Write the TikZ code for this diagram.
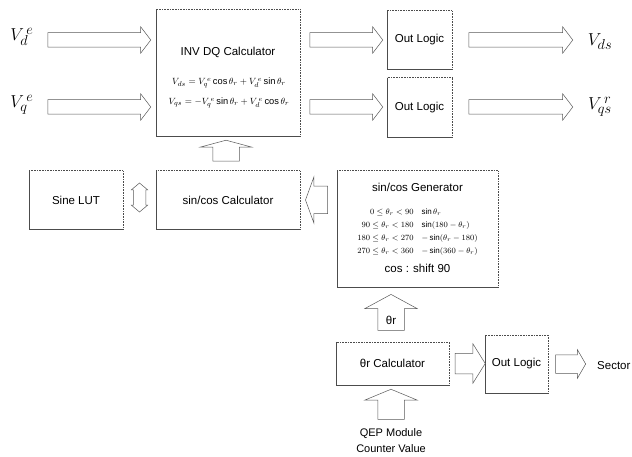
\documentclass[tikz,border=0pt]{standalone}
\usepackage{fontspec}
\setmainfont{Liberation Sans}
\usetikzlibrary{shapes.arrows}
\tikzset{
  boxline/.style={draw=black!70, line width=0.6pt},
  blk/.style={rectangle, inner sep=0pt, draw=none},
  lbl/.style={inner sep=0pt, font=\fontsize{11.5}{13}\selectfont},
  bigv/.style={inner sep=0pt, font=\fontsize{19}{21}\selectfont},
  fml/.style={inner sep=0pt, font=\fontsize{9.3}{11}\selectfont},
  barrow/.style={single arrow, draw=black!65, line width=0.5pt, fill=white,
    inner sep=0pt, single arrow head indent=0pt},
  darrow/.style={double arrow, draw=black!65, line width=0.5pt, fill=white,
    inner sep=0pt, double arrow head indent=0pt},
}
\newcommand\scanbox[1]{%
  \draw[boxline] (#1.north west) -- (#1.south west) -- (#1.south east);
  \draw[boxline, densely dotted] (#1.south east) -- (#1.north east) -- (#1.north west);}
\newcommand\bw[1]{\rule{0pt}{#1}}
\begin{document}
\begin{tikzpicture}[x=1pt, y=-1pt]
\useasboundingbox (0,0) rectangle (632,457);
% boxes
\node[blk, minimum width=144pt, minimum height=126pt] (inv) at (228,73) {};
\node[blk, minimum width=65pt, minimum height=58pt] (ol1) at (419.5,40) {};
\node[blk, minimum width=65pt, minimum height=59pt] (ol2) at (419.5,107.5) {};
\node[blk, minimum width=94pt, minimum height=58pt] (lut) at (76,200) {};
\node[blk, minimum width=144pt, minimum height=58pt] (scc) at (228,200) {};
\node[blk, minimum width=161pt, minimum height=116pt] (gen) at (417.5,229) {};
\node[blk, minimum width=113pt, minimum height=43pt] (thc) at (392.5,363.5) {};
\node[blk, minimum width=63pt, minimum height=58pt] (ol3) at (516.5,364) {};
\foreach \b in {inv,ol1,ol2,lut,scc,gen,thc,ol3} {\scanbox{\b}}
% box texts
\node[lbl] (invt) at (228,52) {INV DQ Calculator};
\node[fml] (f1) at (229,83) {$V_{ds} = V_q^{\,e}\cos\theta_r + V_d^{\,e}\sin\theta_r$};
\node[fml] (f2) at (229,103) {$V_{qs} = -V_q^{\,e}\sin\theta_r + V_d^{\,e}\cos\theta_r$};
\node[lbl] (ol1t) at (ol1) {Out Logic};
\node[lbl] (ol2t) at (ol2) {Out Logic};
\node[lbl] (ol3t) at (ol3) {Out Logic};
\node[lbl] (lutt) at (lut) {Sine LUT};
\node[lbl] (scct) at (scc) {sin/cos Calculator};
\node[lbl] (thct) at (thc) {θr Calculator};
\node[lbl] (gent) at (417.5,187) {sin/cos Generator};
\node[fml, font=\fontsize{8}{13}\selectfont] (gtab) at (417.5,231) {%
  \begin{tabular}{@{}r@{\quad}l@{}}
  $0\le\theta_r<90$ & $\sin\theta_r$\\
  $90\le\theta_r<180$ & $\sin(180-\theta_r)$\\
  $180\le\theta_r<270$ & $-\sin(\theta_r-180)$\\
  $270\le\theta_r<360$ & $-\sin(360-\theta_r)$
  \end{tabular}};
\node[lbl] (gcos) at (417.5,268) {cos : shift 90};
% signal labels
\node[bigv] (vd) at (22,37) {$V_d^{\,e}$};
\node[bigv] (vq) at (22,105) {$V_q^{\,e}$};
\node[bigv] (vds) at (600,42) {$V_{ds}$};
\node[bigv] (vqs) at (600,107) {$V_{qs}^{\,r}$};
\node[lbl, anchor=west] (sec) at (597,366) {Sector};
\node[lbl, align=center, font=\fontsize{11}{16}\selectfont] (qep) at (391,441) {QEP Module\\Counter Value};
% block arrows, row 1
\node[barrow, minimum height=103pt, single arrow head extend=6pt, single arrow tip angle=105] (a1) at (96.5,40) {\bw{14pt}};
\node[barrow, minimum height=73pt, single arrow head extend=6pt, single arrow tip angle=105] (a2) at (343.5,40) {\bw{14pt}};
\node[barrow, minimum height=104pt, single arrow head extend=6pt, single arrow tip angle=105] (a3) at (518,40) {\bw{14pt}};
% row 2
\node[barrow, minimum height=103pt, single arrow head extend=6pt, single arrow tip angle=105] (b1) at (96.5,107) {\bw{14pt}};
\node[barrow, minimum height=73pt, single arrow head extend=6pt, single arrow tip angle=105] (b2) at (343.5,107) {\bw{14pt}};
\node[barrow, minimum height=104pt, single arrow head extend=6pt, single arrow tip angle=105] (b3) at (518,107) {\bw{14pt}};
% scc -> inv
\node[barrow, rotate=90, minimum height=21pt, single arrow head extend=12.5pt, single arrow tip angle=150] (up1) at (226,152.5) {\bw{26pt}};
% lut <-> scc
\node[darrow, rotate=90, minimum height=29pt, double arrow head extend=2pt, double arrow tip angle=100] (dbl) at (139.5,197.5) {\bw{12pt}};
% gen -> scc
\node[barrow, rotate=180, minimum height=22pt, single arrow head extend=9.5pt, single arrow tip angle=140] (lft) at (319,200) {\bw{27pt}};
% thc -> gen
\node[barrow, rotate=90, minimum height=36pt, single arrow head extend=13pt, single arrow tip angle=123] (up2) at (391,316) {\bw{26pt}};
\node[lbl] (thr) at (391,320) {θr};
% qep -> thc
\node[barrow, rotate=90, minimum height=30pt, single arrow head extend=13pt, single arrow tip angle=135] (up3) at (391,407) {\bw{26pt}};
% thc -> ol3
\node[barrow, minimum height=30pt, single arrow head extend=9.5pt, single arrow tip angle=116] (rt1) at (467,363.5) {\bw{20pt}};
% ol3 -> sector
\node[barrow, minimum height=30pt, single arrow head extend=5pt, single arrow tip angle=120] (rt2) at (568,364) {\bw{18pt}};
\end{tikzpicture}
\end{document}
